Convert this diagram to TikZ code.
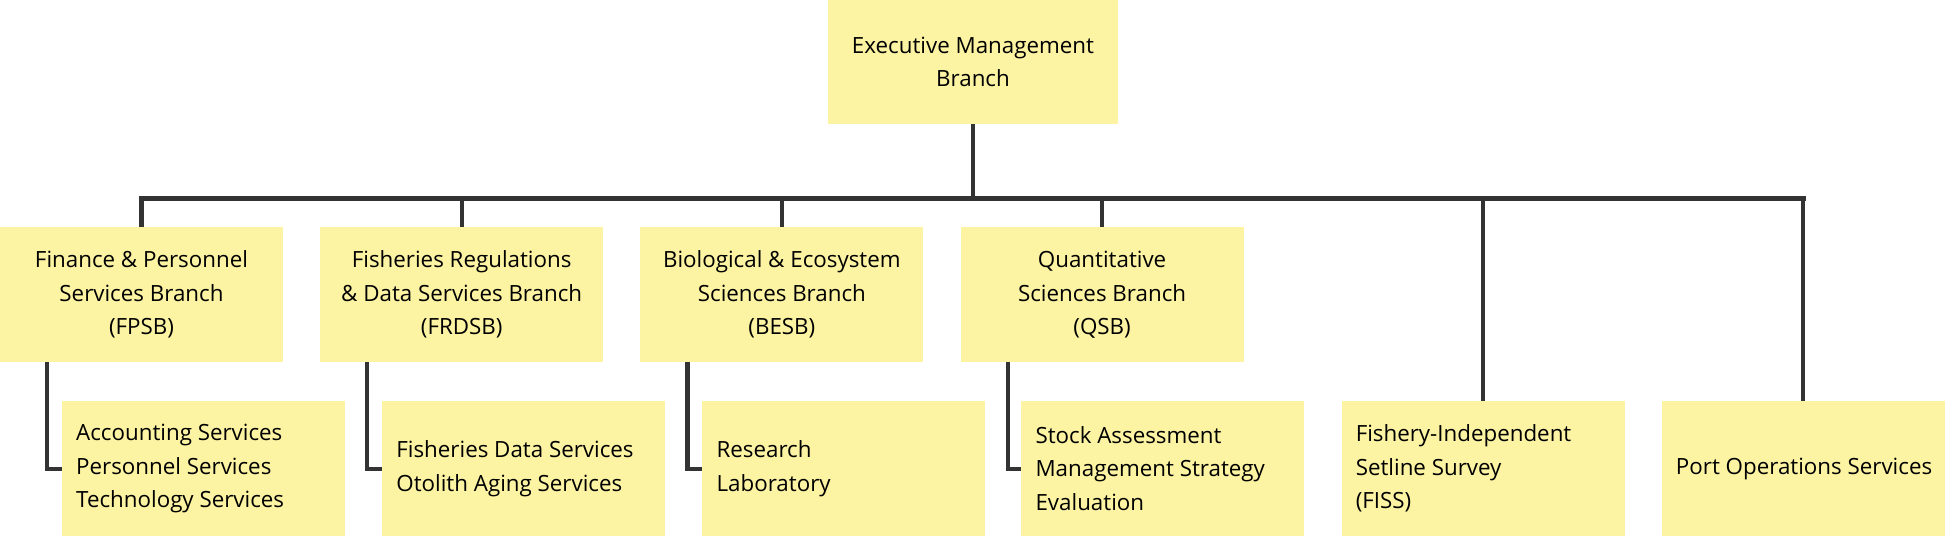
\documentclass[tikz,border=0pt]{standalone}
\usepackage{fontspec}
\setmainfont{Open Sans}
\definecolor{boxy}{HTML}{FCF3A3}
\definecolor{ln}{HTML}{333333}
\begin{document}
\begin{tikzpicture}[x=0.5pt,y=-0.5pt,
  bx/.style={fill=boxy,draw=none,inner sep=0pt,font=\fontsize{9}{13.5}\selectfont},
  conn/.style={draw=ln,line width=1.7pt}]
\useasboundingbox (0,0) rectangle (1568,434);
\fill[boxy] (667,0) rectangle (901,100);
\node[bx,align=center] (ex) at (784,50) {Executive Management\\Branch};
\foreach \x/\n/\t in {0/fp/{Finance \& Personnel\\Services Branch\\(FPSB)},258/fr/{Fisheries Regulations\\\& Data Services Branch\\(FRDSB)},516/be/{Biological \& Ecosystem\\Sciences Branch\\(BESB)},774/qs/{Quantitative\\Sciences Branch\\(QSB)}}{
  \fill[boxy] (\x,183) rectangle (\x+228,292);
  \node[bx,align=center] (\n) at (\x+114,237.5) {\t};
}
\foreach \x/\n/\t in {50/aa/{Accounting Services\\Personnel Services\\Technology Services},308/ab/{Fisheries Data Services\\Otolith Aging Services},566/ac/{Research\\Laboratory},823/ad/{Stock Assessment\\Management Strategy\\Evaluation},1081/ae/{Fishery-Independent\\Setline Survey\\(FISS)},1339/af/{Port Operations Services}}{
  \fill[boxy] (\x,323) rectangle (\x+228,432);
  \node[bx,align=left,anchor=west] (\n) at (\x+11,377.5) {\t};
}
\coordinate (exb) at (784,100);
\coordinate (bus) at (784,160);
\coordinate (fpT) at (114,183); \coordinate (frT) at (372,183);
\coordinate (beT) at (630,183); \coordinate (qsT) at (888,183);
\coordinate (aeT) at (1195,323); \coordinate (afT) at (1453,323);
\coordinate (fpE) at (38,292); \coordinate (frE) at (296,292);
\coordinate (beE) at (554,292); \coordinate (qsE) at (812,292);
\coordinate (aaL) at (50,378); \coordinate (abL) at (308,378);
\coordinate (acL) at (566,378); \coordinate (adL) at (823,378);
\draw[conn] (exb) -- (bus);
\draw[draw=ln,line width=2.2pt] (112,160) -- (1455,160);
\foreach \n in {fpT,frT,beT,qsT,aeT,afT}{\draw[conn] (\n) -- (\n |- bus);}
\draw[conn] (fpE) |- (aaL);
\draw[conn] (frE) |- (abL);
\draw[conn] (beE) |- (acL);
\draw[conn] (qsE) |- (adL);
\end{tikzpicture}
\end{document}
